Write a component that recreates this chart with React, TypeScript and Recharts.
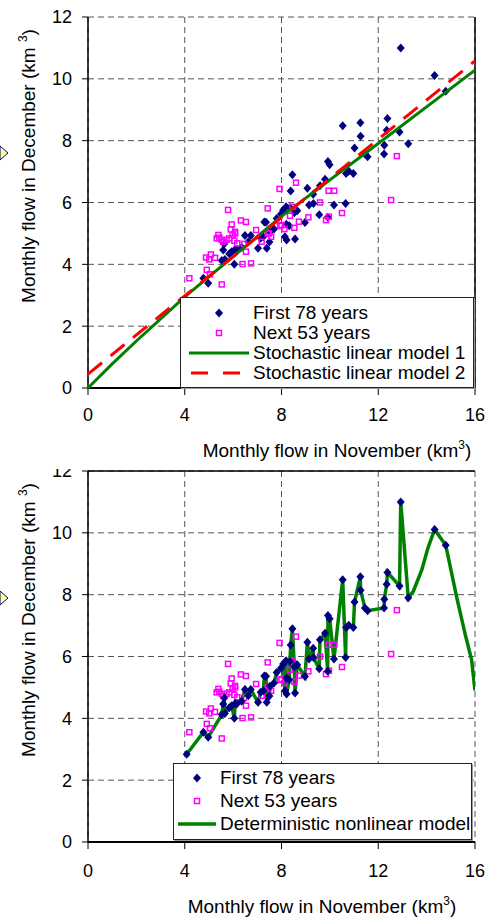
import React from 'react';
import { ScatterChart, Scatter, XAxis, YAxis, CartesianGrid, ReferenceLine } from 'recharts';

// first 78 years (Nov, Dec) in km3
const firstYears = [
  { x: 12.93, y: 11.0 }, { x: 14.33, y: 10.11 }, { x: 14.79, y: 9.6 }, { x: 12.38, y: 8.72 },
  { x: 12.35, y: 8.34 }, { x: 12.88, y: 8.28 }, { x: 10.53, y: 8.48 }, { x: 11.26, y: 8.58 },
  { x: 11.27, y: 8.14 }, { x: 13.24, y: 7.9 }, { x: 12.25, y: 7.85 }, { x: 12.24, y: 7.57 },
  { x: 11.02, y: 7.76 }, { x: 11.45, y: 7.57 }, { x: 11.56, y: 7.48 }, { x: 9.92, y: 7.33 },
  { x: 9.99, y: 7.22 }, { x: 10.67, y: 6.94 }, { x: 10.78, y: 7.01 }, { x: 10.97, y: 6.94 },
  { x: 8.45, y: 6.9 }, { x: 8.38, y: 6.37 }, { x: 9.07, y: 6.46 }, { x: 9.31, y: 6.27 },
  { x: 9.59, y: 6.54 }, { x: 9.8, y: 6.75 }, { x: 9.32, y: 5.97 }, { x: 9.14, y: 5.92 },
  { x: 10.17, y: 5.92 }, { x: 10.65, y: 5.97 }, { x: 8.65, y: 5.73 }, { x: 8.53, y: 5.67 },
  { x: 8.19, y: 5.86 }, { x: 8.07, y: 5.76 }, { x: 9.56, y: 5.6 }, { x: 9.91, y: 5.52 },
  { x: 8.97, y: 5.35 }, { x: 8.32, y: 5.25 }, { x: 8.2, y: 5.3 }, { x: 8.14, y: 4.89 },
  { x: 8.21, y: 4.79 }, { x: 8.56, y: 4.82 }, { x: 8.35, y: 5.84 }, { x: 7.98, y: 5.63 },
  { x: 7.36, y: 5.36 }, { x: 7.52, y: 5.04 }, { x: 7.69, y: 5.14 }, { x: 7.25, y: 4.89 },
  { x: 7.14, y: 4.84 }, { x: 7.39, y: 4.52 }, { x: 7.03, y: 4.52 }, { x: 6.49, y: 4.93 },
  { x: 6.73, y: 4.93 }, { x: 6.63, y: 4.73 }, { x: 6.35, y: 4.55 }, { x: 6.15, y: 4.46 },
  { x: 5.94, y: 4.41 }, { x: 5.59, y: 4.46 }, { x: 5.66, y: 4.16 }, { x: 5.53, y: 4.12 },
  { x: 6.05, y: 4.0 }, { x: 5.63, y: 4.66 }, { x: 4.77, y: 3.55 }, { x: 4.97, y: 3.39 },
  { x: 4.08, y: 2.84 }, { x: 7.8, y: 5.48 }, { x: 7.5, y: 4.72 }, { x: 7.29, y: 5.37 },
  { x: 6.08, y: 4.48 }, { x: 5.84, y: 4.34 },
];

// next 53 years
const nextYears = [
  { x: 7.92, y: 6.44 }, { x: 8.6, y: 6.64 }, { x: 9.95, y: 6.38 }, { x: 10.18, y: 6.38 },
  { x: 12.77, y: 7.5 }, { x: 12.53, y: 6.08 }, { x: 9.59, y: 6.0 }, { x: 8.45, y: 5.86 },
  { x: 8.35, y: 5.57 }, { x: 9.11, y: 5.52 }, { x: 9.96, y: 5.54 }, { x: 9.84, y: 5.43 },
  { x: 10.5, y: 5.66 }, { x: 8.72, y: 5.38 }, { x: 8.0, y: 5.27 }, { x: 8.12, y: 5.14 },
  { x: 8.53, y: 5.18 }, { x: 5.79, y: 5.76 }, { x: 7.43, y: 5.81 }, { x: 6.32, y: 5.42 },
  { x: 6.53, y: 5.37 }, { x: 5.94, y: 5.29 }, { x: 5.9, y: 5.13 }, { x: 5.39, y: 4.95 },
  { x: 5.32, y: 4.84 }, { x: 5.53, y: 4.79 }, { x: 5.59, y: 4.73 }, { x: 5.84, y: 4.84 },
  { x: 6.05, y: 4.76 }, { x: 5.98, y: 4.95 }, { x: 6.95, y: 5.11 }, { x: 6.45, y: 4.66 },
  { x: 6.53, y: 4.41 }, { x: 7.43, y: 5.0 }, { x: 7.57, y: 4.89 }, { x: 7.94, y: 5.24 },
  { x: 4.88, y: 4.22 }, { x: 5.08, y: 4.32 }, { x: 5.01, y: 4.16 }, { x: 5.25, y: 4.21 },
  { x: 6.39, y: 4.01 }, { x: 6.74, y: 4.03 }, { x: 4.91, y: 3.82 }, { x: 5.04, y: 3.68 },
  { x: 4.19, y: 3.55 }, { x: 5.53, y: 3.35 }, { x: 6.08, y: 5.0 }, { x: 5.43, y: 4.86 },
  { x: 5.73, y: 4.79 }, { x: 6.17, y: 4.68 }, { x: 7.18, y: 4.73 }, { x: 7.48, y: 5.0 },
  { x: 6.08, y: 5.05 },
];

const stochModel1 = [
  { x: 0, y: 0 }, { x: 1, y: 0.78 }, { x: 2, y: 1.52 }, { x: 4, y: 2.95 },
  { x: 8, y: 5.55 }, { x: 12, y: 7.91 }, { x: 16, y: 10.28 },
];
const stochModel2 = [{ x: 0, y: 0.45 }, { x: 16, y: 10.58 }];

// extra points of the deterministic curve beyond the observed years
const detTail = [
  { x: 13.45, y: 8.11 }, { x: 13.8, y: 8.8 }, { x: 14.05, y: 9.5 },
  { x: 15.24, y: 7.93 }, { x: 15.6, y: 6.7 }, { x: 15.86, y: 5.89 }, { x: 16, y: 4.9 },
];
const detModel = [...firstYears, ...detTail].sort((a, b) => a.x - b.x);

const xTicks = [0, 4, 8, 12, 16];
const yTicks = [0, 2, 4, 6, 8, 10, 12];

const FONT = '"Liberation Sans", Arial, sans-serif';
const NAVY = '#000080';
const MAGENTA = '#FF00FF';
const GREEN = '#008000';
const RED = '#FF0000';

const Diamond = (p: any) => (
  <polygon points={`${p.cx},${p.cy - 4.5} ${p.cx + 4},${p.cy} ${p.cx},${p.cy + 4.5} ${p.cx - 4},${p.cy}`} fill={NAVY} />
);
const Square = (p: any) => (
  <rect x={p.cx - 2.5} y={p.cy - 2.5} width={5} height={5} fill="none" stroke={MAGENTA} strokeWidth={1.5} />
);
const NoShape = () => <g />;

const XTitle = ({ tx, ty }: any) => (
  <text x={tx} y={ty} textAnchor="middle" fontSize={19} fill="#000" fontFamily={FONT}>
    Monthly flow in November (km<tspan dy={-8} fontSize={12}>3</tspan><tspan dy={8}>)</tspan>
  </text>
);
const YTitle = ({ tx, ty }: any) => (
  <text x={tx} y={ty} transform={`rotate(-90, ${tx}, ${ty})`} textAnchor="middle" fontSize={19} fill="#000" fontFamily={FONT}>
    Monthly flow in December (km <tspan dy={-8} fontSize={12}>3</tspan><tspan dy={8}>)</tspan>
  </text>
);

const axisProps = {
  type: 'number' as const,
  axisLine: { stroke: '#000', strokeWidth: 1.5 },
  tickLine: { stroke: '#000' },
  tick: { fill: '#000', fontSize: 18, fontFamily: FONT },
};

const Arrow = ({ top }: { top: number }) => (
  <svg width={10} height={20} style={{ position: 'absolute', left: 0, top, zIndex: 3 }}>
    <polygon points="0,2 8,9 0,16" fill="#FFFF99" stroke={NAVY} strokeWidth={1} />
  </svg>
);

const legendRow = (h: number): React.CSSProperties => ({ height: h, display: 'flex', alignItems: 'center', whiteSpace: 'nowrap' });

const TopChart = () => (
  <ScatterChart width={491} height={469} margin={{ top: 17, right: 16, bottom: 0, left: 0 }}>
    <CartesianGrid stroke="#555" strokeDasharray="6 4" />
    <XAxis {...axisProps} dataKey="x" domain={[0, 16]} ticks={xTicks} tickSize={7} tickMargin={13} height={81}
      axisLine={{ stroke: '#000', strokeWidth: 2 }} label={<XTitle tx={337} ty={457} />} />
    <YAxis {...axisProps} dataKey="y" domain={[0, 12]} ticks={yTicks} tickSize={6} tickMargin={10} width={88}
      label={<YTitle tx={35} ty={166} />} />
    <ReferenceLine x={16} stroke="#000" strokeWidth={1.5} />
    <Scatter data={firstYears} shape={Diamond} isAnimationActive={false} />
    <Scatter data={nextYears} shape={Square} isAnimationActive={false} />
    <Scatter data={stochModel1} shape={NoShape} line={{ stroke: GREEN, strokeWidth: 3 }} lineType="joint" isAnimationActive={false} />
    <Scatter data={stochModel2} shape={NoShape} line={{ stroke: RED, strokeWidth: 3, strokeDasharray: '18 11' }} lineType="joint" isAnimationActive={false} />
  </ScatterChart>
);

const BottomChart = () => (
  <ScatterChart width={491} height={463} margin={{ top: 17, right: 16, bottom: 0, left: 0 }}>
    <CartesianGrid stroke="#555" strokeDasharray="6 4" />
    <XAxis {...axisProps} dataKey="x" domain={[0, 16]} ticks={xTicks} tickSize={7} tickMargin={15} height={75}
      axisLine={{ stroke: '#000', strokeWidth: 2 }} allowDataOverflow label={<XTitle tx={322} ty={459} />} />
    <YAxis {...axisProps} dataKey="y" domain={[0, 12]} ticks={yTicks} tickSize={6} tickMargin={10} width={88}
      label={<YTitle tx={35} ty={166} />} />
    <ReferenceLine y={12} stroke="#000" strokeWidth={1.5} />
    <Scatter data={detModel} shape={NoShape} line={{ stroke: GREEN, strokeWidth: 3.5 }} lineType="joint" isAnimationActive={false} />
    <Scatter data={nextYears} shape={Square} isAnimationActive={false} />
    <Scatter data={firstYears} shape={Diamond} isAnimationActive={false} />
  </ScatterChart>
);

export default function App() {
  const legendBox: React.CSSProperties = {
    position: 'absolute', background: '#fff', border: '1px solid #222', boxShadow: '1px 1px 0 #999',
    fontFamily: FONT, fontSize: 19, color: '#000', boxSizing: 'border-box', zIndex: 4,
  };
  return (
    <div style={{ position: 'absolute', left: 0, top: 0, width: 491, height: 917, background: '#fff', overflow: 'hidden' }}>
      <div style={{ position: 'absolute', left: 0, top: 0, zIndex: 2, background: '#fff' }}>
        <TopChart />
      </div>
      <div style={{ position: 'absolute', left: 0, top: 454, zIndex: 1 }}>
        <BottomChart />
      </div>
      <Arrow top={144} />
      <Arrow top={589} />

      <div style={{ ...legendBox, left: 180, top: 297, width: 294, height: 91, paddingTop: 5 }}>
        <div style={legendRow(20)}>
          <svg width={72} height={20}><polygon points="38,5.5 42,10 38,14.5 34,10" fill={NAVY} /></svg>
          <span>First 78 years</span>
        </div>
        <div style={legendRow(20)}>
          <svg width={72} height={20}><rect x={35.5} y={7.5} width={5} height={5} fill="none" stroke={MAGENTA} strokeWidth={1.5} /></svg>
          <span>Next 53 years</span>
        </div>
        <div style={legendRow(20)}>
          <svg width={72} height={20}><line x1={8} y1={10} x2={68} y2={10} stroke={GREEN} strokeWidth={3} /></svg>
          <span>Stochastic linear model 1</span>
        </div>
        <div style={legendRow(20)}>
          <svg width={72} height={20}><line x1={10} y1={10} x2={68} y2={10} stroke={RED} strokeWidth={3} strokeDasharray="17 15" /></svg>
          <span>Stochastic linear model 2</span>
        </div>
      </div>

      <div style={{ ...legendBox, left: 173, top: 763, width: 299, height: 77, paddingTop: 2 }}>
        <div style={legendRow(23)}>
          <svg width={46} height={20}><polygon points="23,5.5 27,10 23,14.5 19,10" fill={NAVY} /></svg>
          <span>First 78 years</span>
        </div>
        <div style={legendRow(23)}>
          <svg width={46} height={20}><rect x={20.5} y={7.5} width={5} height={5} fill="none" stroke={MAGENTA} strokeWidth={1.5} /></svg>
          <span>Next 53 years</span>
        </div>
        <div style={legendRow(23)}>
          <svg width={46} height={20}><line x1={4} y1={10} x2={42} y2={10} stroke={GREEN} strokeWidth={3.5} /></svg>
          <span>Deterministic nonlinear model</span>
        </div>
      </div>
    </div>
  );
}
